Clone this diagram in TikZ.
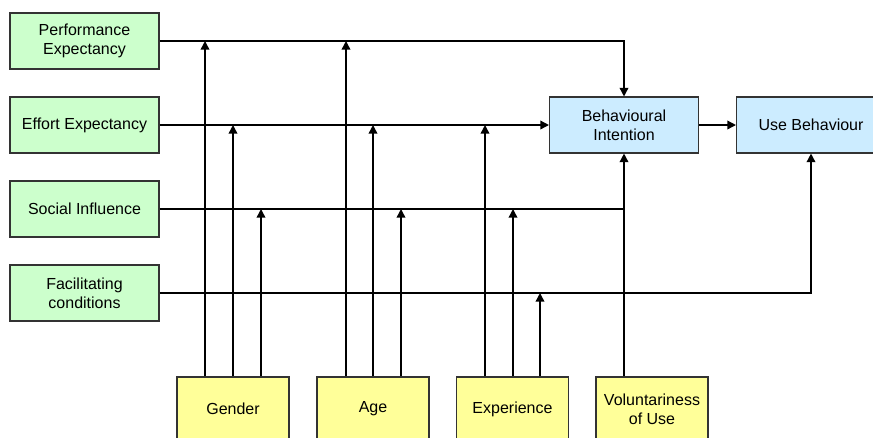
\documentclass[tikz,border=0pt]{standalone}
\usepackage{fontspec}
\setmainfont{Liberation Sans}
\usetikzlibrary{arrows.meta}
\definecolor{boxgreen}{HTML}{CCFFCC}
\definecolor{boxblue}{HTML}{CCECFF}
\definecolor{boxyellow}{HTML}{FFFF99}
\definecolor{edgegray}{HTML}{333333}
\tikzset{
  box/.style={draw=edgegray, line width=0.8pt, align=center, inner sep=0pt,
    font=\fontsize{12}{14.2}\selectfont, text=black},
  factor/.style={box, fill=boxgreen, minimum width=111.75pt, minimum height=42pt},
  outcome/.style={box, fill=boxblue, minimum width=111.75pt, minimum height=42pt},
  moderator/.style={box, fill=boxyellow, minimum width=84pt, minimum height=48pt},
  link/.style={line width=1.1pt, black},
  arr/.style={link, -{Triangle[length=6.5pt,width=6.5pt]}}
}
\begin{document}
\begin{tikzpicture}[x=0.75pt,y=-0.75pt]
\useasboundingbox (0,0) rectangle (873,437);
\clip (0,0) rectangle (873,437);

% determinants
\node[factor] (PE) at (84.5,41)  {Performance\\Expectancy};
\node[factor] (EE) at (84.5,125) {Effort Expectancy};
\node[factor] (SI) at (84.5,209) {Social Influence};
\node[factor] (FC) at (84.5,293) {Facilitating\\conditions};

% intention and behaviour
\node[outcome] (BI) at (624,125) {Behavioural\\Intention};
\node[outcome] (UB) at (811,125) {Use Behaviour};

% moderators
\node[moderator] (G) at (233,409)   {Gender};
\node[moderator] (A) at (373,409)   {Age};
\node[moderator] (X) at (512.5,409) {Experience};
\node[moderator] (V) at (652,409)   {Voluntariness\\of Use};

% main paths
\draw[arr] (PE.east) -| (BI.north);
\draw[arr] (EE.east) -- (EE.east -| BI.west);
\draw[link] (SI.east) -- (SI.east -| BI.south);
\draw[arr] (FC.east) -| (UB.south);
\draw[arr] (BI.east) -- (UB.west);
\draw[arr] (BI.south |- V.north) -- (BI.south);

% moderating effects
\draw[arr] ([xshift=-28*0.75pt]G.north) -- ([xshift=-28*0.75pt]G.north |- PE.east);
\draw[arr] (G.north) -- (G.north |- EE.east);
\draw[arr] ([xshift=28*0.75pt]G.north) -- ([xshift=28*0.75pt]G.north |- SI.east);

\draw[arr] ([xshift=-27*0.75pt]A.north) -- ([xshift=-27*0.75pt]A.north |- PE.east);
\draw[arr] (A.north) -- (A.north |- EE.east);
\draw[arr] ([xshift=28*0.75pt]A.north) -- ([xshift=28*0.75pt]A.north |- SI.east);

\draw[arr] ([xshift=-27.5*0.75pt]X.north) -- ([xshift=-27.5*0.75pt]X.north |- EE.east);
\draw[arr] ([xshift=0.5*0.75pt]X.north) -- ([xshift=0.5*0.75pt]X.north |- SI.east);
\draw[arr] ([xshift=27.5*0.75pt]X.north) -- ([xshift=27.5*0.75pt]X.north |- FC.east);
\end{tikzpicture}
\end{document}
